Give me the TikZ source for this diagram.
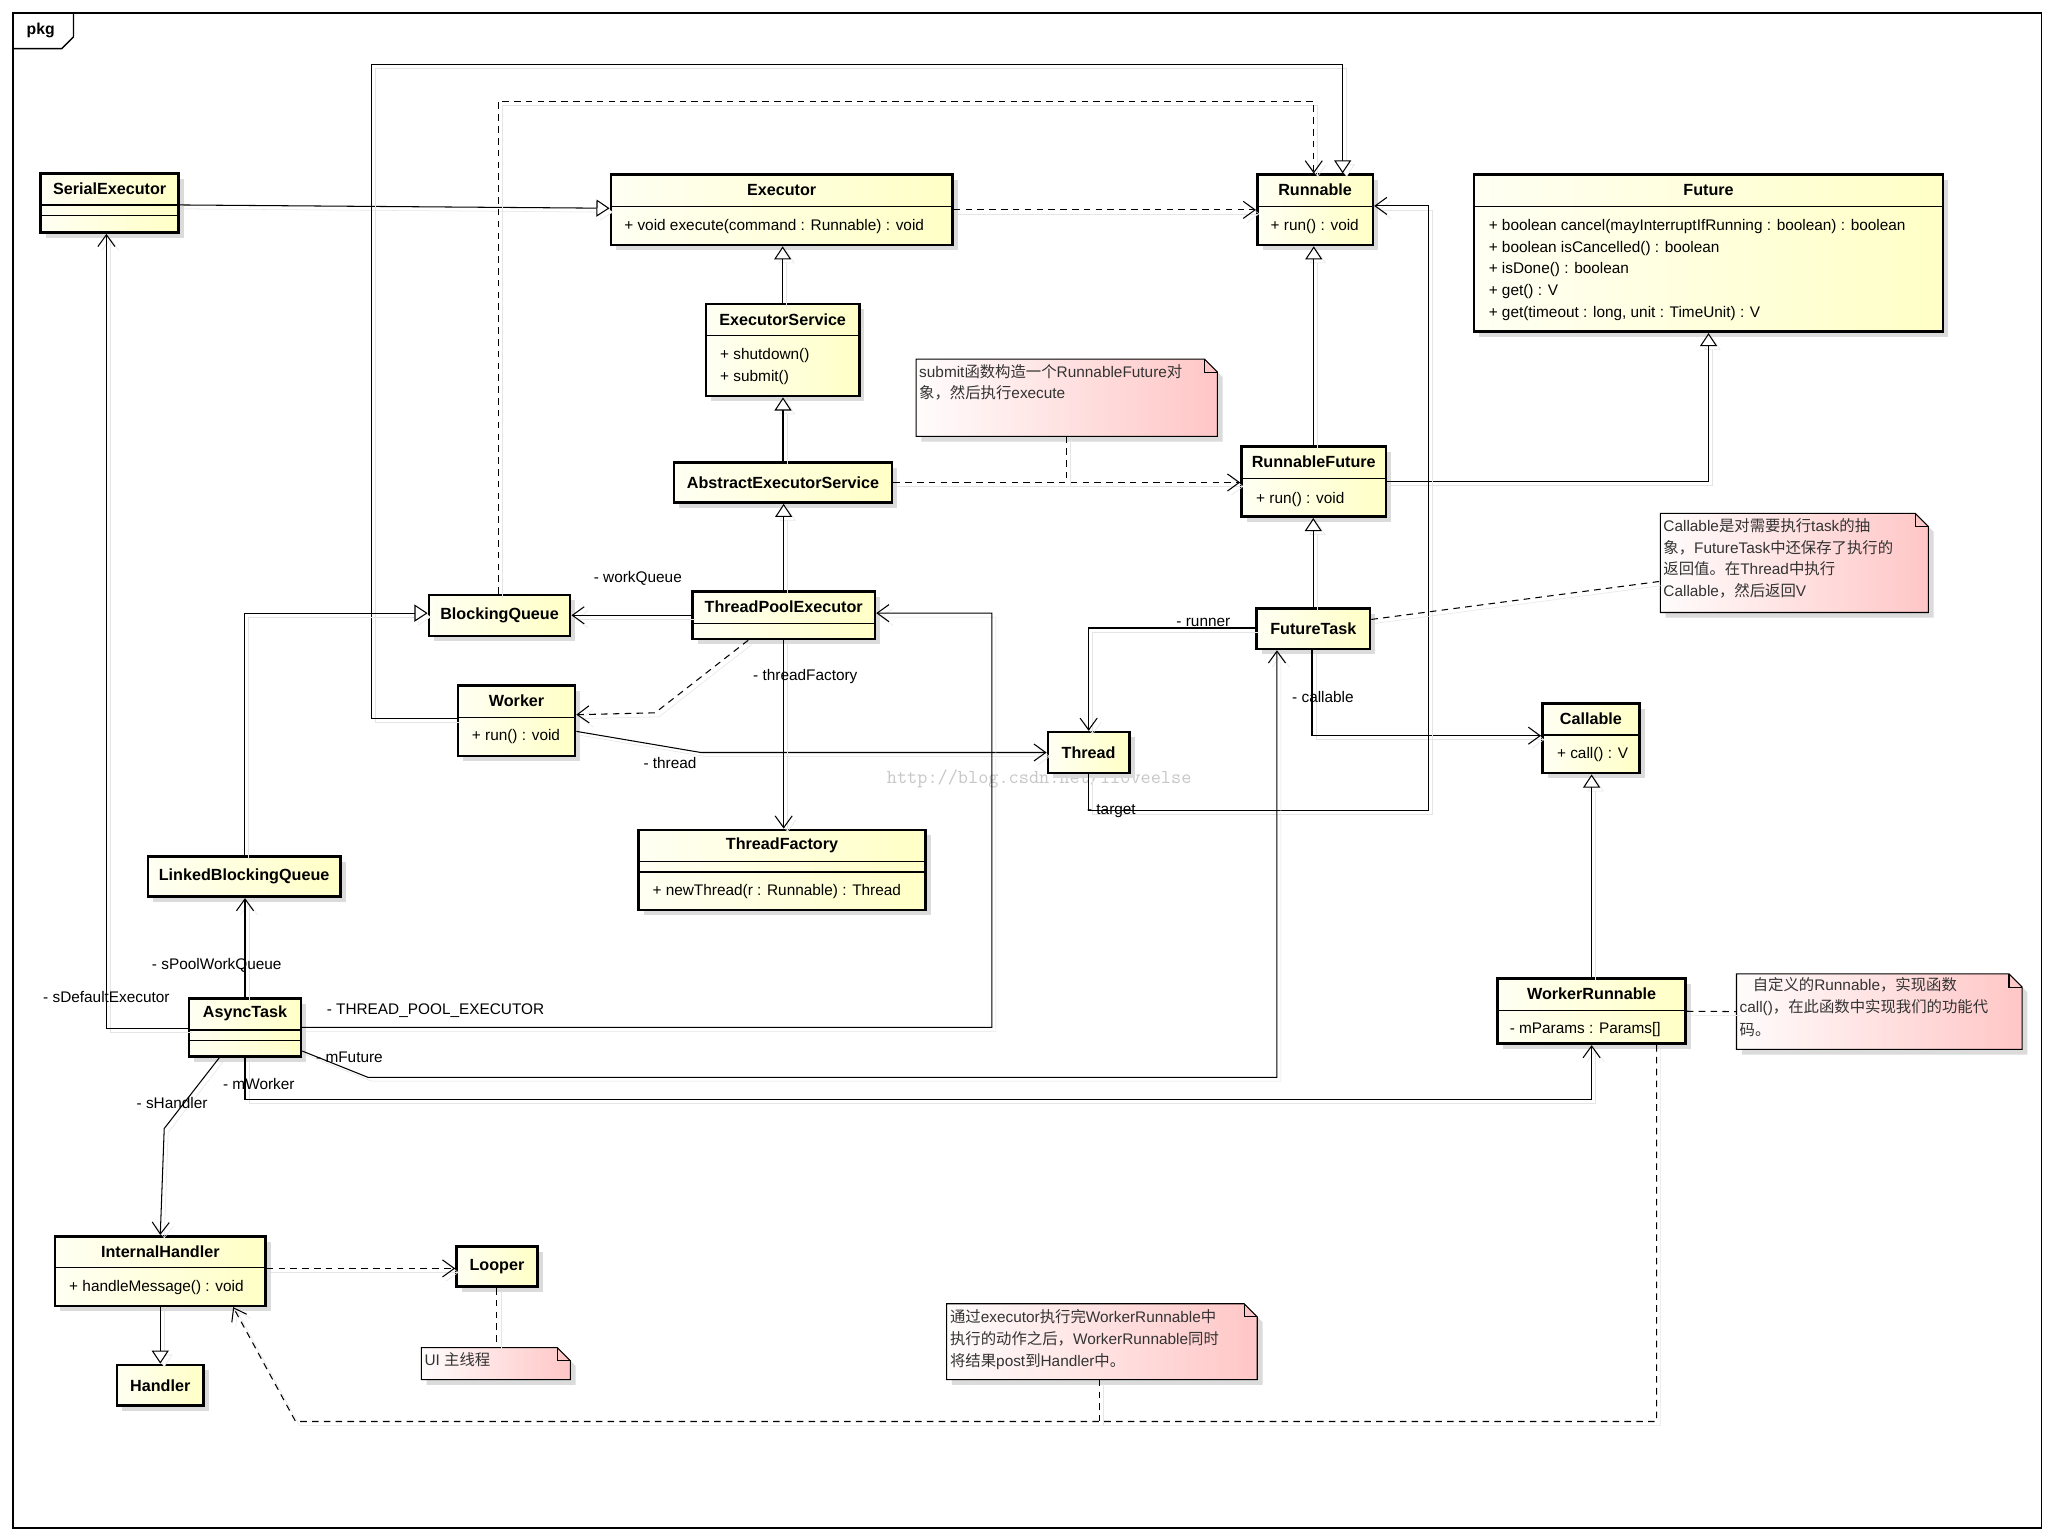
\documentclass[tikz,border=0pt]{standalone}
\usepackage{fontspec}
\setmainfont{Liberation Sans}
\newfontfamily\cjk{Noto Sans CJK SC}
\usetikzlibrary{arrows.meta, positioning, shadows}
\definecolor{clsL}{RGB}{255,255,243}
\definecolor{clsR}{RGB}{255,255,198}
\definecolor{noteL}{RGB}{255,252,252}
\definecolor{noteR}{RGB}{255,198,198}
\newcommand{\zh}[1]{{\cjk #1}}

\begin{document}
\begin{tikzpicture}[
    x=1pt, y=-1pt,
    cls/.style={draw, line width=2pt, inner sep=0pt, left color=clsL, right color=clsR,
        font=\bfseries\fontsize{12.3}{14}\selectfont,
        drop shadow={shadow xshift=4pt, shadow yshift=-4pt, fill=black!14, opacity=1}},
    cname/.style={font=\bfseries\fontsize{12.3}{14}\selectfont, inner sep=0pt},
    member/.style={font=\fontsize{11.7}{14}\selectfont, inner sep=0pt, text height=8.5pt, text depth=2.5pt, anchor=west},
    role/.style={font=\fontsize{11.7}{14}\selectfont, inner sep=0pt, text height=8.5pt, text depth=2.5pt},
    notebox/.style={inner sep=0pt},
    notetext/.style={font=\fontsize{11.7}{14}\selectfont, text=black!80, inner sep=0pt, text height=8.5pt, text depth=2.5pt, anchor=west},
    divider/.style={line width=1pt},
    conn/.style={line width=0.8pt, preaction={draw=black!10, solid, transform canvas={shift={(3pt,-3pt)}}}},
    gen/.style={conn, -{Triangle[open, length=10pt, width=13pt, fill=white]}},
    assoc/.style={conn, -{Straight Barb[length=9pt, width=13pt]}},
    dep/.style={assoc, dash pattern=on 5pt off 4pt},
    notelink/.style={conn, dash pattern=on 5pt off 4pt}
]
\useasboundingbox (0,0) rectangle (1565,1170);
\fill[white] (0,0) rectangle (1565,1170);

% frame
\draw[line width=1pt] (10,10) rectangle (1554,1163);
\draw[line width=1pt] (10,37) -- (47,37) -- (56,28) -- (56,10);
\node[font=\bfseries\fontsize{12}{14}\selectfont, inner sep=0pt] (pkg) at (31,23.5) {pkg};
\node[font=\ttfamily\fontsize{15}{15}\selectfont, text=black!22, inner sep=0pt] (watermark) at (791,593) {http://blog.csdn.net/iloveelse};

% classes
\node[cls, minimum width=105, minimum height=45] (serial) at (83.5,154.5) {};
\node[cls, minimum width=260, minimum height=53.5] (executor) at (595,159.75) {};
\node[cls, minimum width=88, minimum height=53.5] (runnable) at (1001,159.75) {};
\node[cls, minimum width=357, minimum height=119.5] (future) at (1300.5,192.75) {};
\node[cls, minimum width=116.5, minimum height=70] (execService) at (595.75,266.5) {};
\node[cls, minimum width=166, minimum height=30.5] (absService) at (596,367.25) {AbstractExecutorService};
\node[cls, minimum width=110, minimum height=53.3] (runFuture) at (1000,366.65) {};
\node[cls, minimum width=139, minimum height=36] (poolExec) at (596.5,468.35) {};
\node[cls, minimum width=107.5, minimum height=31] (blockQueue) at (380.25,468.5) {BlockingQueue};
\node[cls, minimum width=89, minimum height=53.4] (worker) at (393.2,548.7) {};
\node[cls, minimum width=62, minimum height=31] (thread) at (828.65,572.8) {Thread};
\node[cls, minimum width=218.5, minimum height=61] (threadFactory) at (595.25,662.2) {};
\node[cls, minimum width=86.3, minimum height=31] (futureTask) at (999.65,478.5) {FutureTask};
\node[cls, minimum width=74, minimum height=53] (callable) at (1211,562) {};
\node[cls, minimum width=146.4, minimum height=30.6] (linkedQueue) at (185.8,667.3) {LinkedBlockingQueue};
\node[cls, minimum width=85, minimum height=44] (asyncTask) at (186.5,782) {};
\node[cls, minimum width=143, minimum height=49.5] (workerRunnable) at (1211.5,769.75) {};
\node[cls, minimum width=160, minimum height=53] (internalHandler) at (122,967.5) {};
\node[cls, minimum width=61.5, minimum height=30.4] (looper) at (378.25,964.2) {Looper};
\node[cls, minimum width=66, minimum height=31] (handler) at (122,1054.5) {Handler};

% compartments
\foreach \b/\t in {serial/SerialExecutor, executor/Executor, runnable/Runnable, future/Future,
    execService/ExecutorService, runFuture/RunnableFuture, poolExec/ThreadPoolExecutor,
    worker/Worker, threadFactory/ThreadFactory, callable/Callable, asyncTask/AsyncTask,
    workerRunnable/WorkerRunnable, internalHandler/InternalHandler} {
  \node[cname] (\b-name) at ([yshift=-12.5pt]\b.north) {\t};
  \draw[divider] ([yshift=-25pt]\b.north west) -- ([yshift=-25pt]\b.north east);
}
\foreach \b in {serial, threadFactory, asyncTask}
  \draw[divider] ([yshift=-33pt]\b.north west) -- ([yshift=-33pt]\b.north east);

\node[member] (executor-op) at (475,172.5) {+ void execute(command : Runnable) : void};
\node[member] (runnable-op) at (967,172.5) {+ run() : void};
\foreach \t [count=\i] in {{+ boolean cancel(mayInterruptIfRunning : boolean) : boolean},
    {+ boolean isCancelled() : boolean}, {+ isDone() : boolean}, {+ get() : V},
    {+ get(timeout : long, unit : TimeUnit) : V}}
  \node[member] (future-op\i) at (1133,{172.5+16.5*(\i-1)}) {\t};
\node[member] (execService-op1) at (548,270.7) {+ shutdown()};
\node[member] (execService-op2) at (548,287.7) {+ submit()};
\node[member] (runFuture-op) at (956,380) {+ run() : void};
\node[member] (worker-op) at (359,561) {+ run() : void};
\node[member] (threadFactory-op) at (496.5,679) {+ newThread(r : Runnable) : Thread};
\node[member] (callable-op) at (1185,574.6) {+ call() : V};
\node[member] (workerRunnable-attr) at (1149,784) {- mParams : Params[]};
\node[member] (internalHandler-op) at (52.5,980) {+ handleMessage() : void};

% notes
\node[notebox, minimum width=229, minimum height=58.5] (noteSubmit) at (812,302.75) {};
\node[notebox, minimum width=203.6, minimum height=75] (noteCallable) at (1365.8,428.5) {};
\node[notebox, minimum width=217, minimum height=57] (noteWorker) at (1430.5,770) {};
\node[notebox, minimum width=113, minimum height=24] (noteUI) at (377.5,1038) {};
\node[notebox, minimum width=236, minimum height=57.4] (notePost) at (838.8,1021.3) {};
\foreach \n in {noteSubmit, noteCallable, noteWorker, noteUI, notePost} {
  \draw[line width=0.8pt, left color=noteL, right color=noteR,
      drop shadow={shadow xshift=4pt, shadow yshift=-4pt, fill=black!14, opacity=1}]
    (\n.north west) -- ([xshift=-10pt]\n.north east) -- ([yshift=-10pt]\n.north east)
    -- (\n.south east) -- (\n.south west) -- cycle;
  \draw[line width=0.8pt] ([xshift=-10pt]\n.north east) |- ([yshift=-10pt]\n.north east);
}
\foreach \t [count=\i] in {{submit\zh{函数构造一个}RunnableFuture\zh{对}}, {\zh{象，然后执行}execute}}
  \node[notetext] (noteSubmit-\i) at (699.5,{284+16.3*(\i-1)}) {\t};
\foreach \t [count=\i] in {{Callable\zh{是对需要执行}task\zh{的抽}}, {\zh{象，}FutureTask\zh{中还保存了执行的}},
    {\zh{返回值。在}Thread\zh{中执行}}, {Callable\zh{，然后返回}V}}
  \node[notetext] (noteCallable-\i) at (1266,{401.7+16.4*(\i-1)}) {\t};
\foreach \t [count=\i] in {{\hspace*{10pt}\zh{自定义的}Runnable\zh{，实现函数}},
    {call()\zh{，在此函数中实现我们的功能代}}, {\zh{码。}}}
  \node[notetext] (noteWorker-\i) at (1324,{751+17*(\i-1)}) {\t};
\node[notetext] (noteUI-1) at (323,1036.6) {UI \zh{主线程}};
\foreach \t [count=\i] in {{\zh{通过}executor\zh{执行完}WorkerRunnable\zh{中}},
    {\zh{执行的动作之后，}WorkerRunnable\zh{同时}}, {\zh{将结果}post\zh{到}Handler\zh{中。}}}
  \node[notetext] (notePost-\i) at (723,{1004+16.5*(\i-1)}) {\t};

% connectors
\coordinate (wrBend) at (225,1082);
\draw[gen] ([yshift=-1.5pt]serial.east) -- ([yshift=1.25pt]executor.west);
\draw[dep] (executor.east) -- (runnable.west);
\draw[gen] (execService.north) -- (execService.north |- executor.south);
\draw[gen] (absService.north) -- (absService.north |- execService.south);
\draw[gen] (poolExec.north) -- (poolExec.north |- absService.south);
\draw[dep] (absService.east) -- (absService.east -| runFuture.west);
\draw[notelink] (noteSubmit.south) -- (noteSubmit.south |- absService.east);
\draw[gen] (runFuture.north) -- (runFuture.north |- runnable.south);
\draw[gen] (runFuture.east) -| (future.south);
\draw[gen] (futureTask.north) -- (futureTask.north |- runFuture.south);
\draw[assoc] ([yshift=0.5pt]futureTask.west) -| (thread.north);
\draw[assoc] ([xshift=-1pt]futureTask.south) |- ([yshift=2pt]callable.west);
\draw[assoc] (thread.south) |- (1087,617) |- ([yshift=3pt]runnable.east);
\draw[gen] ([yshift=2pt]worker.west) -| (283,49) -| ([xshift=21pt]runnable.north);
\draw[dep] ([xshift=-1pt]blockQueue.north) |- (1000,77) -- ([xshift=-1pt]runnable.north);
\draw[assoc] (poolExec.west) -- (poolExec.west -| blockQueue.east);
\draw[dep] ([xshift=-27pt]poolExec.south) -- (498.6,542.6) -- ([yshift=4.7pt]worker.east);
\draw[assoc] ([yshift=-8pt]worker.east) -- (533.6,572.8) -- (thread.west);
\draw[assoc] (poolExec.south) -- (poolExec.south |- threadFactory.north);
\draw[gen] (linkedQueue.north) |- ([yshift=1.8pt]blockQueue.west);
\draw[assoc] (asyncTask.north) -- (asyncTask.north |- linkedQueue.south);
\draw[assoc] ([yshift=-1pt]asyncTask.west) -| ([xshift=-2.5pt]serial.south);
\draw[assoc] (asyncTask.east) -| (755,466.7) -- ([yshift=1.65pt]poolExec.east);
\draw[assoc] ([yshift=-18pt]asyncTask.east) -- (280,820) -| ([xshift=-27.65pt]futureTask.south);
\draw[assoc] (asyncTask.south) -- ++(0,32) -| (workerRunnable.south);
\draw[assoc] ([xshift=-19.5pt]asyncTask.south) -- (125,859) -- (internalHandler.north);
\draw[gen] (workerRunnable.north) -- (workerRunnable.north |- callable.south);
\draw[notelink] ([yshift=7pt]futureTask.east) -- ([yshift=-14pt]noteCallable.west);
\draw[notelink] (workerRunnable.east) -- (noteWorker.west);
\draw[dep] ([yshift=2pt]internalHandler.east) -- ([yshift=-1.3pt]looper.west);
\draw[notelink] (looper.south) -- (looper.south |- noteUI.north);
\draw[gen] (internalHandler.south) -- (internalHandler.south |- handler.north);
\draw[dep] ([xshift=49.5pt]workerRunnable.south) |- (wrBend) -- ([xshift=55.5pt]internalHandler.south);
\draw[notelink] ([xshift=-2pt]notePost.south) -- ([xshift=-2pt]notePost.south |- wrBend);

% roles
\node[role] (lWorkQueue) at (485.5,440.7) {- workQueue};
\node[role] (lThreadFactory) at (613,515) {- threadFactory};
\node[role] (lThread) at (510,581.7) {- thread};
\node[role] (lRunner) at (916,474) {- runner};
\node[role] (lCallable) at (1007,532) {- callable};
\node[role] (lTarget) at (846,617) {- target};
\node[role] (lPoolQueue) at (165,735) {- sPoolWorkQueue};
\node[role] (lDefaultExec) at (81,760) {- sDefaultExecutor};
\node[role] (lPoolExec) at (331.5,769) {- THREAD\_POOL\_EXECUTOR};
\node[role] (lFuture) at (266,806) {- mFuture};
\node[role] (lWorker) at (197,826) {- mWorker};
\node[role] (lHandler) at (131,841) {- sHandler};
\end{tikzpicture}
\end{document}
